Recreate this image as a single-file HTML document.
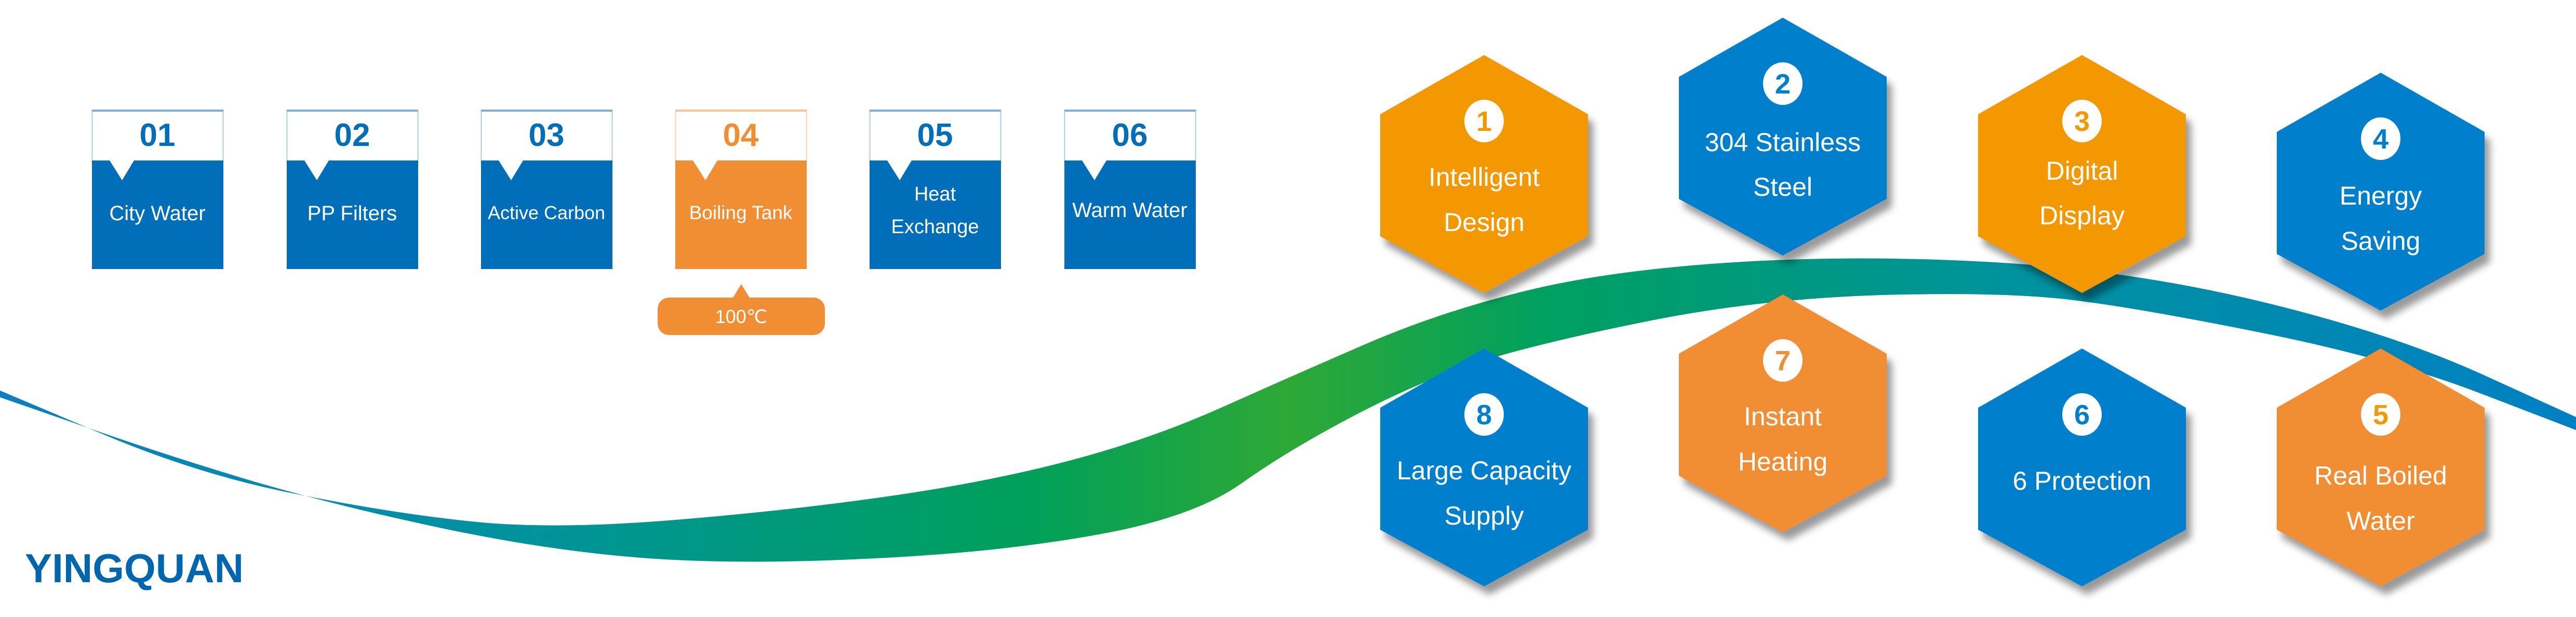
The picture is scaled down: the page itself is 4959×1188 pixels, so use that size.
<!DOCTYPE html>
<html><head><meta charset="utf-8"><style>
html,body{margin:0;padding:0;background:#fff;}
svg{display:block;}
text{font-family:"Liberation Sans Narrow","Liberation Sans",sans-serif;}
</style></head><body>
<svg width="4959" height="1188" viewBox="0 0 4959 1188" xmlns="http://www.w3.org/2000/svg">
<defs>
<linearGradient id="band" gradientUnits="userSpaceOnUse" x1="0" y1="0" x2="4959" y2="0">
<stop offset="0" stop-color="#0a7fc4"/>
<stop offset="0.2" stop-color="#00939e"/>
<stop offset="0.4" stop-color="#00a05a"/>
<stop offset="0.5" stop-color="#2ea836"/>
<stop offset="0.6" stop-color="#00a060"/>
<stop offset="0.78" stop-color="#00929e"/>
<stop offset="1" stop-color="#0080c4"/>
</linearGradient>
<filter id="sh" x="-20%" y="-20%" width="150%" height="150%">
<feDropShadow dx="10" dy="16" stdDeviation="7" flood-color="#000" flood-opacity="0.4"/>
</filter>
</defs>

<path fill="url(#band)" d="M0,752 L191,833 Q383,915 574,952 Q765,990 918,1005 Q1071,1020 1300,1001 Q1530,982 1721,954 Q1913,926 2066,885 Q2219,844 2353,784 Q2487,724 2630,662 Q2774,600 2937,560 Q3100,520 3339,505 Q3578,490 3839,505 Q4100,520 4350,580 Q4600,640 4779,721 L4959,803 L4959,828 L4779,759 Q4600,690 4350,640 Q4100,590 3975,576 Q3850,562 3625,568 Q3400,575 3200,613 Q3000,652 2877,688 Q2755,724 2621,793 Q2487,862 2391,930 Q2296,998 2104,1031 Q1913,1065 1664,1076 Q1416,1088 1234,1074 Q1052,1060 841,1015 Q631,970 465,920 Q300,870 150,817 L0,765 Z"/>

<g font-size="40" fill="#fff" text-anchor="middle">
<g transform="translate(177,0)">
<rect x="0.5" y="213" width="252" height="100" fill="#fff" stroke="#a9cbe9" stroke-width="2"/><rect x="0" y="211" width="253" height="4" fill="#7fb0dc"/>
<rect x="0" y="309" width="253" height="209" fill="#006eb8"/>
<polygon points="34,309 81,309 58,347" fill="#fff"/>
<text x="126" y="281" font-size="62" font-weight="bold" fill="#006eb8">01</text>
<text x="126" y="424">City Water</text>
</g>
<g transform="translate(552,0)">
<rect x="0.5" y="213" width="252" height="100" fill="#fff" stroke="#a9cbe9" stroke-width="2"/><rect x="0" y="211" width="253" height="4" fill="#7fb0dc"/>
<rect x="0" y="309" width="253" height="209" fill="#006eb8"/>
<polygon points="34,309 81,309 58,347" fill="#fff"/>
<text x="126" y="281" font-size="62" font-weight="bold" fill="#006eb8">02</text>
<text x="126" y="424">PP Filters</text>
</g>
<g transform="translate(926,0)">
<rect x="0.5" y="213" width="252" height="100" fill="#fff" stroke="#a9cbe9" stroke-width="2"/><rect x="0" y="211" width="253" height="4" fill="#7fb0dc"/>
<rect x="0" y="309" width="253" height="209" fill="#006eb8"/>
<polygon points="34,309 81,309 58,347" fill="#fff"/>
<text x="126" y="281" font-size="62" font-weight="bold" fill="#006eb8">03</text>
<text x="126" y="422" font-size="36">Active Carbon</text>
</g>
<g transform="translate(1300,0)">
<rect x="0.5" y="213" width="252" height="100" fill="#fff" stroke="#fbd3ad" stroke-width="2"/><rect x="0" y="211" width="253" height="4" fill="#f9c597"/>
<rect x="0" y="309" width="253" height="209" fill="#f18d32"/>
<polygon points="34,309 81,309 58,347" fill="#fff"/>
<text x="126" y="281" font-size="62" font-weight="bold" fill="#f18d32">04</text>
<text x="126" y="422" font-size="37">Boiling Tank</text>
</g>
<g transform="translate(1674,0)">
<rect x="0.5" y="213" width="252" height="100" fill="#fff" stroke="#a9cbe9" stroke-width="2"/><rect x="0" y="211" width="253" height="4" fill="#7fb0dc"/>
<rect x="0" y="309" width="253" height="209" fill="#006eb8"/>
<polygon points="34,309 81,309 58,347" fill="#fff"/>
<text x="126" y="281" font-size="62" font-weight="bold" fill="#006eb8">05</text>
<text x="126" y="386" font-size="38">Heat</text>
<text x="126" y="449" font-size="38">Exchange</text>
</g>
<g transform="translate(2049,0)">
<rect x="0.5" y="213" width="252" height="100" fill="#fff" stroke="#a9cbe9" stroke-width="2"/><rect x="0" y="211" width="253" height="4" fill="#7fb0dc"/>
<rect x="0" y="309" width="253" height="209" fill="#006eb8"/>
<polygon points="34,309 81,309 58,347" fill="#fff"/>
<text x="126" y="281" font-size="62" font-weight="bold" fill="#006eb8">06</text>
<text x="126" y="418">Warm Water</text>
</g>
<rect x="1266" y="573" width="322" height="72" rx="22" fill="#f18d32"/>
<polygon points="1410,575 1444,575 1427,547" fill="#f18d32"/>
<text x="1427" y="622" font-size="36">100℃</text>
</g>

<g text-anchor="middle">
<g filter="url(#sh)" transform="translate(2857,106)">
<polygon points="0,0 200,114 200,349 0,458 -200,349 -200,114" fill="#f39800"/>
<ellipse cx="0" cy="127" rx="38" ry="41" fill="#fff"/>
<text x="0" y="146" font-size="54" font-weight="bold" fill="#f39800">1</text>
<text x="0" y="252" font-size="50" fill="#fff">Intelligent</text>
<text x="0" y="339" font-size="50" fill="#fff">Design</text>
</g>
<g filter="url(#sh)" transform="translate(3432,34)">
<polygon points="0,0 200,114 200,349 0,458 -200,349 -200,114" fill="#0080cc"/>
<ellipse cx="0" cy="127" rx="38" ry="41" fill="#fff"/>
<text x="0" y="146" font-size="54" font-weight="bold" fill="#0080cc">2</text>
<text x="0" y="257" font-size="50" fill="#fff">304 Stainless</text>
<text x="0" y="343" font-size="50" fill="#fff">Steel</text>
</g>
<g filter="url(#sh)" transform="translate(4008,106)">
<polygon points="0,0 200,114 200,349 0,458 -200,349 -200,114" fill="#f39800"/>
<ellipse cx="0" cy="127" rx="38" ry="41" fill="#fff"/>
<text x="0" y="146" font-size="54" font-weight="bold" fill="#f39800">3</text>
<text x="0" y="240" font-size="50" fill="#fff">Digital</text>
<text x="0" y="326" font-size="50" fill="#fff">Display</text>
</g>
<g filter="url(#sh)" transform="translate(4583,140)">
<polygon points="0,0 200,114 200,349 0,458 -200,349 -200,114" fill="#0080cc"/>
<ellipse cx="0" cy="127" rx="38" ry="41" fill="#fff"/>
<text x="0" y="146" font-size="54" font-weight="bold" fill="#0080cc">4</text>
<text x="0" y="254" font-size="50" fill="#fff">Energy</text>
<text x="0" y="341" font-size="50" fill="#fff">Saving</text>
</g>
<g filter="url(#sh)" transform="translate(2857,671)">
<polygon points="0,0 200,114 200,349 0,458 -200,349 -200,114" fill="#0080cc"/>
<ellipse cx="0" cy="127" rx="38" ry="41" fill="#fff"/>
<text x="0" y="146" font-size="54" font-weight="bold" fill="#0080cc">8</text>
<text x="0" y="252" font-size="50" fill="#fff">Large Capacity</text>
<text x="0" y="339" font-size="50" fill="#fff">Supply</text>
</g>
<g filter="url(#sh)" transform="translate(3432,567)">
<polygon points="0,0 200,114 200,349 0,458 -200,349 -200,114" fill="#f18d33"/>
<ellipse cx="0" cy="127" rx="38" ry="41" fill="#fff"/>
<text x="0" y="146" font-size="54" font-weight="bold" fill="#f18d33">7</text>
<text x="0" y="252" font-size="50" fill="#fff">Instant</text>
<text x="0" y="339" font-size="50" fill="#fff">Heating</text>
</g>
<g filter="url(#sh)" transform="translate(4008,671)">
<polygon points="0,0 200,114 200,349 0,458 -200,349 -200,114" fill="#0080cc"/>
<ellipse cx="0" cy="127" rx="38" ry="41" fill="#fff"/>
<text x="0" y="146" font-size="54" font-weight="bold" fill="#0080cc">6</text>
<text x="0" y="272" font-size="50" fill="#fff">6 Protection</text>
</g>
<g filter="url(#sh)" transform="translate(4583,671)">
<polygon points="0,0 200,114 200,349 0,458 -200,349 -200,114" fill="#f18d33"/>
<ellipse cx="0" cy="127" rx="38" ry="41" fill="#fff"/>
<text x="0" y="146" font-size="54" font-weight="bold" fill="#f39800">5</text>
<text x="0" y="262" font-size="50" fill="#fff">Real Boiled</text>
<text x="0" y="349" font-size="50" fill="#fff">Water</text>
</g>
</g>

<text x="48" y="1121" font-size="78" font-weight="bold" fill="#0066b0" textLength="421" lengthAdjust="spacingAndGlyphs">YINGQUAN</text>
</svg>
</body></html>
